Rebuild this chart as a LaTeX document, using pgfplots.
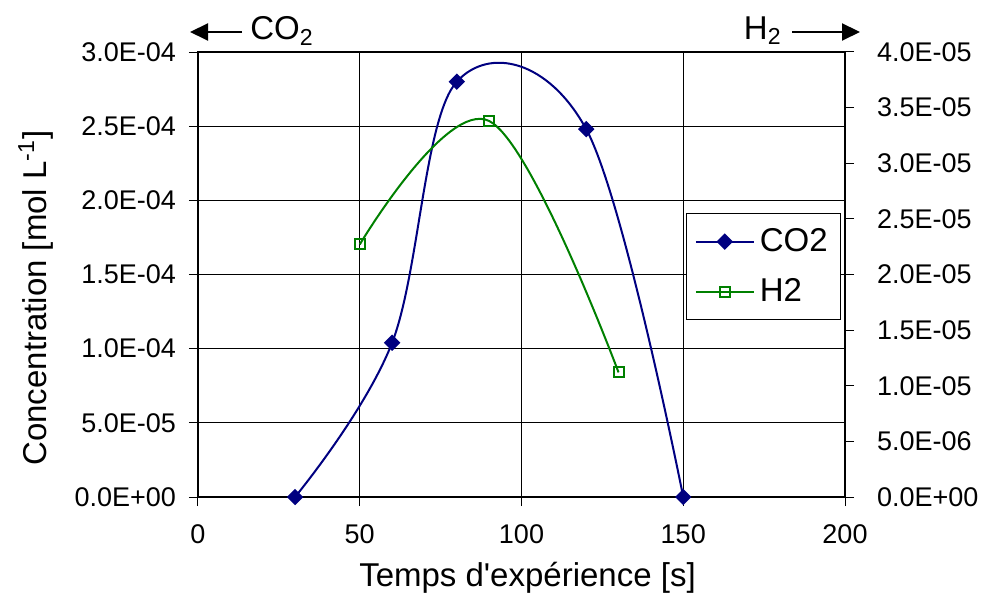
\documentclass[border=0pt]{standalone}
\usepackage{fontspec}
\setmainfont{Liberation Sans}
\usepackage{pgfplots}
\pgfplotsset{compat=1.18}
\usetikzlibrary{arrows.meta}

\definecolor{coblue}{RGB}{0,0,128}
\definecolor{hgreen}{RGB}{0,128,0}

\pgfplotsset{
  every axis/.append style={
    scale only axis,
    width=323.5pt, height=222.5pt,
    xmin=0, xmax=200,
    font=\fontsize{13.5}{15}\selectfont,
    /pgf/number format/assume math mode=true,
    tick align=outside,
    major tick length=4.5pt,
    tick style={black, line width=0.5pt},
    axis line style={black, line width=0.6pt},
  },
  co2/.style={coblue, line width=1pt, smooth, tension=0.6,
    mark=square*, mark size=2.4pt, mark options={rotate=45, solid, fill=coblue}},
  h2/.style={hgreen, line width=1pt, smooth, tension=0.6,
    mark=square, mark size=2.5pt, mark options={solid, draw=hgreen, line width=1pt}},
}

\begin{document}
\begin{tikzpicture}
\path[use as bounding box] (-99pt,-51pt) rectangle (395pt,248.5pt);

% left axis: CO2
\begin{axis}[
  ymin=0, ymax=3e-4,
  xtick={0,50,...,200},
  ytick={0,5e-5,1e-4,1.5e-4,2e-4,2.5e-4,3e-4},
  yticklabels={0.0E+00,5.0E-05,1.0E-04,1.5E-04,2.0E-04,2.5E-04,3.0E-04},
  scaled y ticks=false,
  xtick pos=bottom, ytick pos=left,
  grid=major,
  major grid style={black, line width=0.5pt},
  xlabel={Temps d\textquotesingle expérience [s]},
  ylabel={Concentration [mol L\textsuperscript{-1}]},
  label style={font=\fontsize{16.5}{18}\selectfont},
  ylabel style={at={(-81pt,0.447)}, anchor=center},
  xlabel style={at={(0.5,-40.5pt)}, anchor=center, xshift=3pt},
  xticklabel style={yshift=-6pt},
  yticklabel style={xshift=-3pt},
  clip=false,
]
\addplot[co2] coordinates {
  (30, 0)
  (60, 1.04e-4)
  (80, 2.80e-4)
  (120, 2.48e-4)
  (150, 0)
};
\end{axis}

% right axis: H2
\begin{axis}[
  ymin=0, ymax=4e-5,
  axis x line=none,
  axis y line*=right,
  ytick={0,5e-6,1e-5,1.5e-5,2e-5,2.5e-5,3e-5,3.5e-5,4e-5},
  yticklabels={0.0E+00,5.0E-06,1.0E-05,1.5E-05,2.0E-05,2.5E-05,3.0E-05,3.5E-05,4.0E-05},
  scaled y ticks=false,
  yticklabel style={xshift=8pt},
  legend style={
    at={(0.994,0.638)}, anchor=north east,
    draw=black, fill=white, line width=0.5pt,
    font=\fontsize{16.5}{18}\selectfont,
    row sep=7pt, inner xsep=4pt, inner ysep=5pt,
    nodes={inner sep=2.5pt},
  },
  legend cell align=left,
  legend image code/.code={
    \draw[mark repeat=2, mark phase=2, #1]
      plot coordinates {(0pt,0pt) (14.5pt,0pt) (29pt,0pt)};
  },
  clip=false,
]
\addlegendimage{co2}
\addlegendentry{CO2}
\addplot[h2] coordinates {
  (50, 2.27e-5)
  (90, 3.38e-5)
  (130, 1.12e-5)
};
\addlegendentry{H2}
\end{axis}

% direction hints above the plot
\draw[line width=1pt, -{Triangle[length=9pt, width=8.5pt]}] (22pt,232.5pt) -- (-4pt,232.5pt);
\node[font=\fontsize{16.5}{18}\selectfont, anchor=west, inner sep=0pt] at (26pt,233pt) {CO\textsubscript{2}};
\node[font=\fontsize{16.5}{18}\selectfont, anchor=east, inner sep=0pt] at (292pt,233pt) {H\textsubscript{2}};
\draw[line width=1pt, -{Triangle[length=9pt, width=8.5pt]}] (297pt,232.5pt) -- (331pt,232.5pt);
\end{tikzpicture}
\end{document}
